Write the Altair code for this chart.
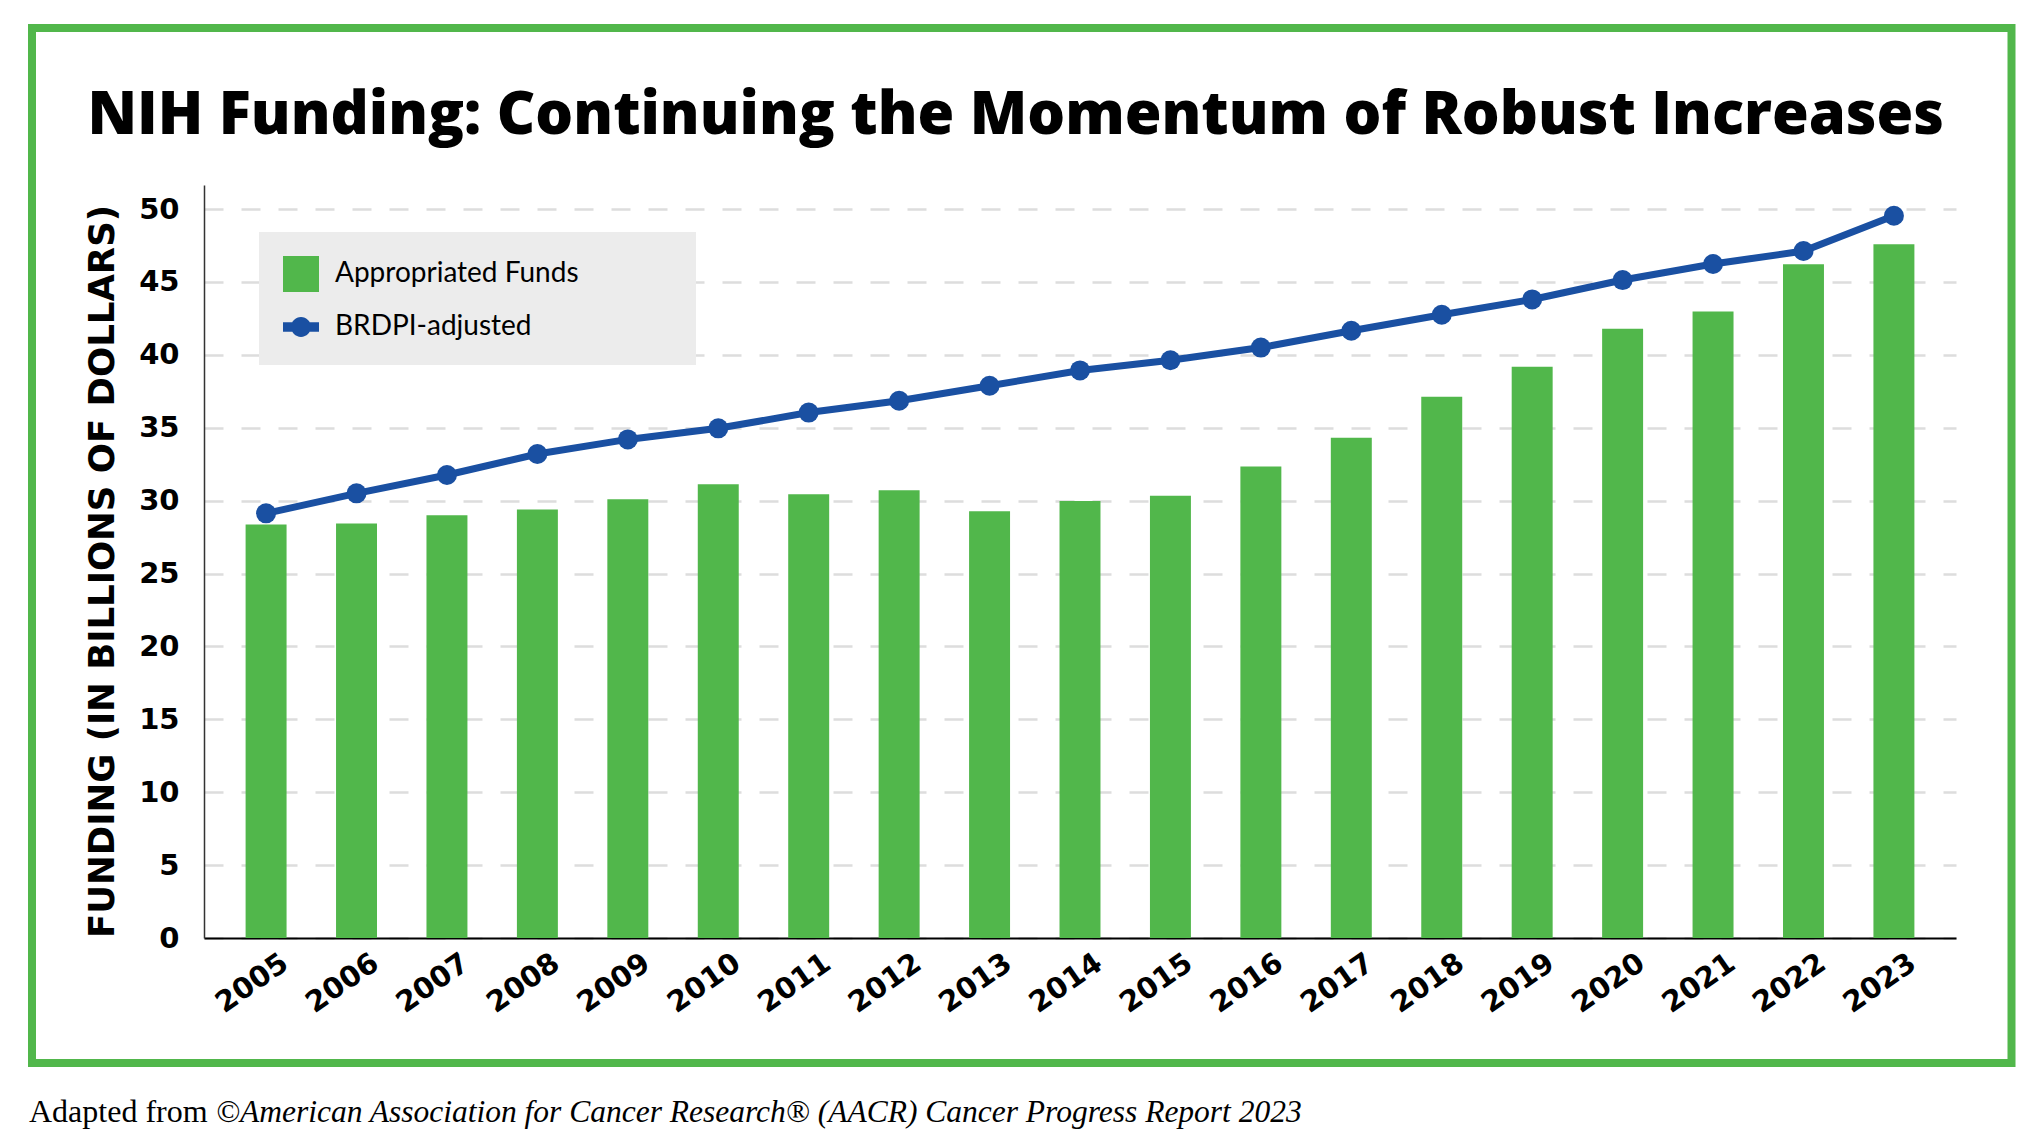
import altair as alt
import pandas as pd

years = ["2005", "2006", "2007", "2008", "2009", "2010", "2011", "2012", "2013", "2014",
         "2015", "2016", "2017", "2018", "2019", "2020", "2021", "2022", "2023"]
appropriated = [28.37, 28.44, 28.99, 29.40, 30.09, 31.12, 30.43, 30.72, 29.28, 29.98,
                30.33, 32.34, 34.31, 37.12, 39.19, 41.79, 42.98, 46.21, 47.58]
brdpi_adjusted = [29.13, 30.50, 31.76, 33.20, 34.20, 34.96, 36.04, 36.85, 37.88, 38.93,
                  39.63, 40.50, 41.65, 42.75, 43.80, 45.13, 46.23, 47.12, 49.54]
series_names = ["Appropriated Funds", "BRDPI-adjusted"]
series_colors = ["#51b74b", "#1a50a2"]
y_ticks = [0, 5, 10, 15, 20, 25, 30, 35, 40, 45, 50]

title_text = "NIH Funding: Continuing the Momentum of Robust Increases"
y_title = "FUNDING (IN BILLIONS OF DOLLARS)"
footer_roman = ["Adapted from"]
footer_italic = ["\u00a9American Association for Cancer Research\u00ae (AACR) Cancer Progress Report 2023"]

GREEN = series_colors[0]
BLUE = series_colors[1]
LINE_SYMBOL = "M-1,-0.26H1V0.26H-1Z M0.55,0A0.55,0.55,0,1,1,-0.55,0A0.55,0.55,0,1,1,0.55,0Z"
NUM_FONT = "DejaVu Sans"
LEGEND_PAD = "\u00a0" * 13 + "\u200b"

df = pd.DataFrame({"year": years, "funds": appropriated, "brdpi": brdpi_adjusted})
df["series"] = series_names[0]

x_enc = alt.X(
    "year:N", sort=years,
    scale=alt.Scale(paddingInner=0.547, paddingOuter=0.46),
    axis=alt.Axis(title=None, labelAngle=325, labelFont=NUM_FONT, labelFontSize=29,
                  labelFontWeight="bold", labelColor="black", ticks=False,
                  domainColor="black", domainWidth=2, labelPadding=10, labelOffset=11,
                  grid=False),
)
y_scale = alt.Scale(domain=[0, 51.65], nice=False, zero=True)
y_axis = alt.Axis(
    title=y_title, values=y_ticks, labelFont=NUM_FONT, labelFontSize=29,
    labelFontWeight="bold", labelColor="black", labelPadding=25, ticks=False,
    domainColor="#333333", domainWidth=1.5,
    grid=True, gridDash=[19, 18], gridColor="#dddddd", gridWidth=2.5,
    titleX=-91, titleY=386, titleAngle=270, titleAlign="center", titleBaseline="alphabetic",
    titleFont=NUM_FONT, titleFontSize=35.5, titleFontWeight="bold", titleColor="black",
)

legend = alt.Legend(
    title=None, orient="none", legendX=55, legendY=47, fillColor="#ececec", padding=24,
    rowPadding=17, symbolSize=1296, symbolStrokeWidth=0, labelFont="Lato", labelFontSize=28,
    labelColor="black", labelOffset=16, labelLimit=1000,
    labelExpr="datum.label + '" + LEGEND_PAD + "'",
    symbolType={"expr": "datum.value === 'BRDPI-adjusted' ? '" + LINE_SYMBOL + "' : 'square'"},
)

bars = alt.Chart(df).mark_bar().encode(
    x=x_enc,
    y=alt.Y("funds:Q", scale=y_scale, axis=y_axis),
    color=alt.Color("series:N", scale=alt.Scale(domain=series_names, range=series_colors),
                    legend=legend),
)
line = alt.Chart(df).mark_line(color=BLUE, strokeWidth=7).encode(
    x=x_enc, y=alt.Y("brdpi:Q", scale=y_scale, axis=y_axis))
points = alt.Chart(df).mark_circle(size=400, color=BLUE, opacity=1).encode(
    x=x_enc, y=alt.Y("brdpi:Q", scale=y_scale, axis=y_axis))

border = alt.Chart(alt.Data(values=[{"k": 1}])).mark_rect(
    fillOpacity=0, stroke=GREEN, strokeWidth=8).encode(
    x=alt.value(-172), x2=alt.value(1807.5), y=alt.value(-157), y2=alt.value(878))

foot1 = alt.Chart(alt.Data(values=[{"t": s} for s in footer_roman])).mark_text(
    align="left", baseline="alphabetic", font="Liberation Serif", fontSize=32, color="black"
).encode(x=alt.value(-175), y=alt.value(937), text="t:N")
foot2 = alt.Chart(alt.Data(values=[{"t": s} for s in footer_italic])).mark_text(
    align="left", baseline="alphabetic", font="Liberation Serif", fontSize=31.5,
    fontStyle="italic", color="black"
).encode(x=alt.value(12), y=alt.value(937), text="t:N")

chart = alt.layer(border, bars, line, points, foot1, foot2).properties(
    width=1752, height=753,
    padding={"left": 196, "top": 177, "right": 60, "bottom": 200},
    autosize=alt.AutoSizeParams(type="none"),
    background="white",
    title=alt.TitleParams(text=title_text, font="Open Sans", fontSize=59.5, fontWeight=800,
                          color="black", anchor="middle", frame="bounds", offset=-169,
                          baseline="alphabetic", dx=-6),
).configure_view(strokeWidth=0)

chart.save("out.html", embed_options={"renderer": "svg", "actions": False})
